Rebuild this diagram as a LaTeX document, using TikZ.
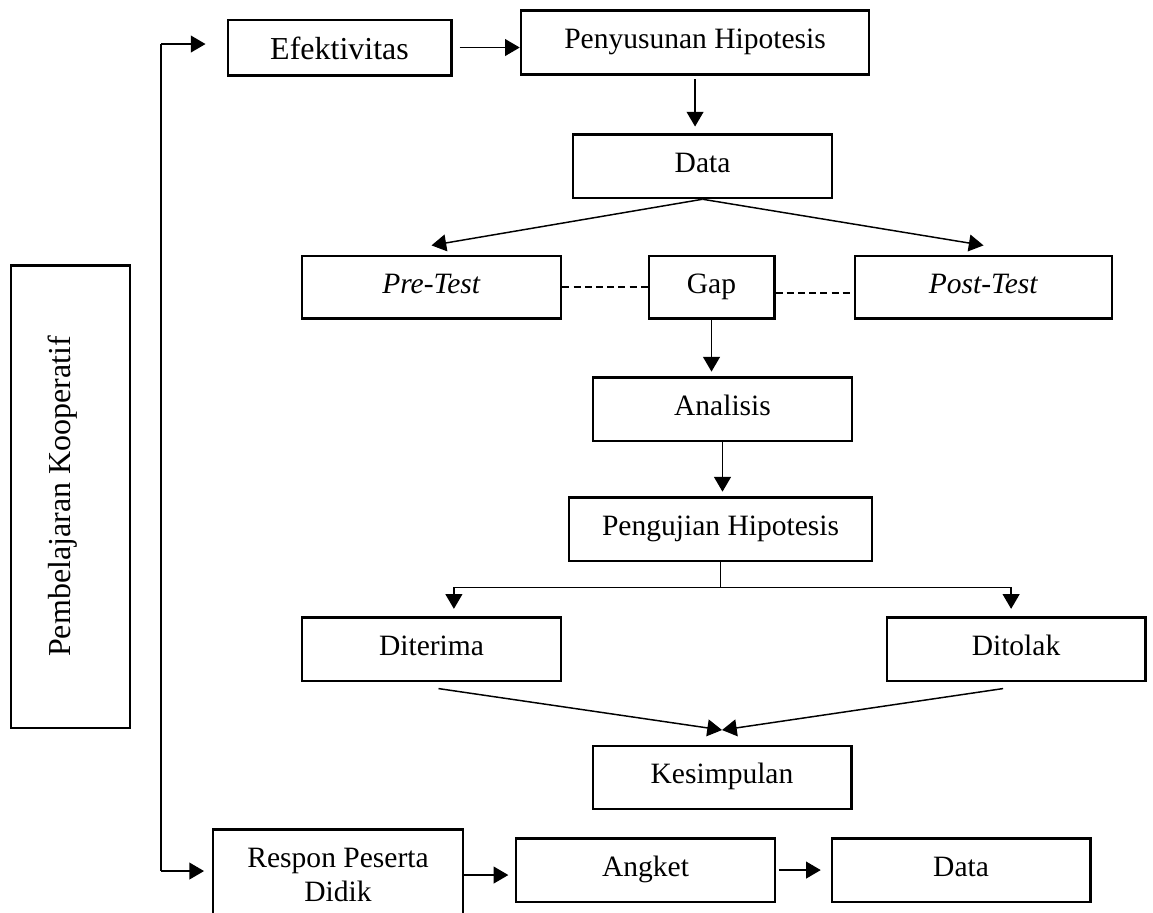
\documentclass[tikz,border=0pt]{standalone}
\usepackage{fontspec}
\setmainfont{Liberation Serif}
\usetikzlibrary{arrows.meta}
\tikzset{box/.style = {draw, line width = 1.1pt, minimum height = 0.91cm, inner sep = 0,
                       text height = 0.7em, text depth = 0.2em, font = \fontsize{12}{14}\selectfont}}
\tikzset{arr/.style = {-{Triangle[length = 2.1mm, width = 2.4mm]}, line width = 0.6pt}}
\tikzset{link/.style = {line width = 0.6pt}}
\tikzset{gapline/.style = {line width = 0.8pt, dash pattern = on 1mm off 0.6mm}}

\begin{document}
\begin{tikzpicture}
    \clip (0, 0) rectangle (16.471, 13.029);

    \node [box, rotate = 90, minimum width = 6.61cm, minimum height = 1.70cm, font = \fontsize{13}{15}\selectfont,
           text height = 0.3cm, text depth = 0.3cm] (koop) at (1.007, 5.936) {Pembelajaran Kooperatif};

    \coordinate (top) at (2.3, 12.4);
    \coordinate (bot) at (2.3, 0.586);
    \draw [link] (top) -- (bot);

    \node [box, minimum width = 3.19cm, minimum height = 0.79cm, font = \fontsize{13}{15}\selectfont,
           text height = 0.42cm, text depth = 0.09cm] (efek) at (4.85, 12.35) {Efektivitas};
    \node [box, minimum width = 4.97cm] (hipo) at (9.929, 12.421) {Penyusunan Hipotesis};
    \node [box, minimum width = 3.70cm] (data) at (10.036, 10.657) {Data};

    \node [box, minimum width = 3.70cm, minimum height = 0.89cm] (pre) at (6.164, 8.929) {\textit{Pre-Test}};
    \node [box, minimum width = 1.79cm, minimum height = 0.89cm] (gap) at (10.164, 8.929) {Gap};
    \node [box, minimum width = 3.67cm, minimum height = 0.89cm] (post) at (14.05, 8.929) {\textit{Post-Test}};

    \node [box, minimum width = 3.70cm] (anal) at (10.321, 7.186) {Analisis};
    \node [box, minimum width = 4.33cm] (uji) at (10.293, 5.471) {Pengujian Hipotesis};
    \node [box, minimum width = 3.70cm] (terima) at (6.164, 3.757) {Diterima};
    \node [box, minimum width = 3.69cm] (tolak) at (14.514, 3.757) {Ditolak};
    \node [box, minimum width = 3.69cm, minimum height = 0.90cm] (simpul) at (10.314, 1.921) {Kesimpulan};

    \node [box, minimum width = 3.57cm, minimum height = 1.31cm, align = center,
           text height = {}, text depth = {}] (respon) at (4.829, 0.529) {Respon Peserta\\Didik};
    \node [box, minimum width = 3.70cm] (angket) at (9.221, 0.6) {Angket};
    \node [box, minimum width = 3.69cm] (data2) at (13.729, 0.6) {Data};

    \draw [arr, shorten > = 0.3cm] (top) -- (top -| efek.west);
    \draw [arr, shorten < = 0.1cm] (efek.east) -- (efek.east -| hipo.west);
    \draw [arr, shorten < = 0.05cm, shorten > = 0.09cm] (hipo.south) -- (hipo.south |- data.north);

    \draw [arr] (data.south) -- ([yshift = 1.3mm]pre.north);
    \draw [arr] (data.south) -- ([yshift = 1.3mm]post.north);
    \draw [gapline] (pre) -- (gap);
    \draw [gapline] ([yshift = -0.9mm]gap.east) -- ([yshift = -0.9mm]post.west);

    \draw [arr, shorten > = 0.06cm] (gap.south) -- (gap.south |- anal.north);
    \draw [arr, shorten > = 0.06cm] (anal.south) -- (anal.south |- uji.north);

    \coordinate (split) at ([yshift = -3.6mm]uji.south);
    \draw [link] (uji.south) -- (split);
    \draw [arr, shorten > = 0.1cm] (split) -| ([xshift = 3.2mm]terima.north);
    \draw [arr, shorten > = 0.1cm] (split) -| ([xshift = -0.7mm]tolak.north);

    \coordinate (meet) at ([yshift = 2.1mm]simpul.north);
    \draw [arr] ([xshift = 1mm, yshift = -0.9mm]terima.south) -- (meet);
    \draw [arr] ([xshift = -1.85mm, yshift = -0.9mm]tolak.south) -- (meet);

    \draw [arr, shorten > = 0.11cm] (bot) -- (bot -| respon.west);
    \draw [arr, shorten > = 0.09cm] (respon.east) -- (respon.east -| angket.west);
    \draw [arr, shorten < = 0.04cm, shorten > = 0.14cm] (angket) -- (data2);
  \end{tikzpicture}
\end{document}
